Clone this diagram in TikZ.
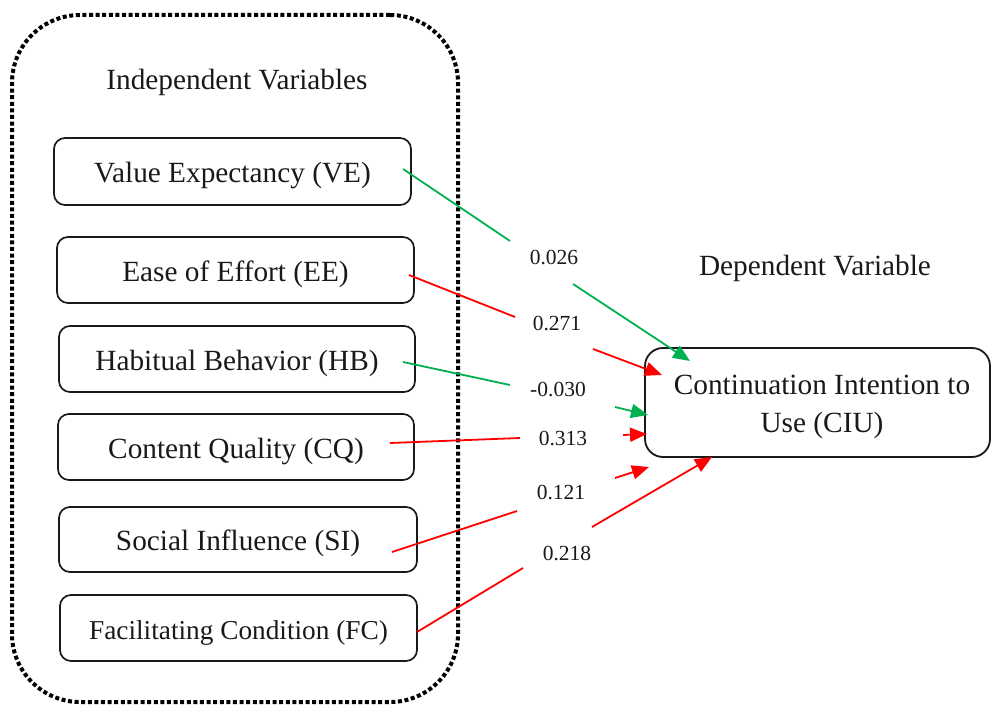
\documentclass[tikz,border=0pt]{standalone}
\usepackage{fontspec}
\setmainfont{Liberation Serif}
\usetikzlibrary{arrows.meta}
\definecolor{arrgreen}{RGB}{0,176,80}
\definecolor{arrred}{RGB}{255,0,0}
\definecolor{inkc}{RGB}{25,25,25}
\begin{document}
\begin{tikzpicture}[x=1pt,y=-1pt,
  varbox/.style={draw=inkc, line width=1.7pt, rounded corners=11pt, minimum width=356pt, minimum height=66pt, inner sep=0pt, text height=22pt, text depth=0pt, text=inkc, font=\fontsize{29.3}{35}\selectfont},
  depbox/.style={draw=inkc, line width=1.8pt, rounded corners=18pt, minimum width=345pt, minimum height=109pt, inner sep=0pt},
  frame/.style={draw=black, line width=4pt, dash pattern=on 4pt off 2.6pt, rounded corners=68pt, minimum width=446pt, minimum height=687pt, inner sep=0pt},
  heading/.style={text=inkc, font=\fontsize{29.3}{35}\selectfont, inner sep=0pt, anchor=base},
  coef/.style={text=inkc, font=\fontsize{21.5}{25}\selectfont, inner sep=0pt},
  gline/.style={draw=arrgreen, line width=1.8pt},
  rline/.style={draw=arrred, line width=1.8pt},
  tip/.style={-{Triangle[length=17pt,width=14pt]}}
]
\useasboundingbox (0,0) rectangle (991,706);

% frame
\node[frame] (frame) at (235,358.5) {};
\node[heading] (indep) at (237,90) {Independent Variables};
\node[heading] (dep) at (815,275) {Dependent Variable};

% independent variable boxes
\node[varbox, minimum width=357pt, minimum height=67pt] (VE) at (232.5,171.5) {Value Expectancy (VE)};
\node[varbox, minimum width=357pt] (EE) at (235.5,270) {Ease of Effort (EE)};
\node[varbox] (HB) at (237,359) {Habitual Behavior (HB)};
\node[varbox] (CQ) at (236,447) {Content Quality (CQ)};
\node[varbox, minimum width=358pt, minimum height=65pt] (SI) at (238,539.5) {Social Influence (SI)};
\node[varbox, minimum width=357pt, font=\fontsize{27.3}{33}\selectfont] (FC) at (238.5,628) {Facilitating Condition (FC)};

% dependent variable box
\node[depbox] (CIU) at (817.5,402.5) {};
\node[heading, align=center] (ciutext) at (822,432) {Continuation Intention to\\[3pt]Use (CIU)};

% coefficients
\node[coef] (c1) at (554,258) {0.026};
\node[coef] (c2) at (557,324) {0.271};
\node[coef] (c3) at (558,390) {-0.030};
\node[coef] (c4) at (563,439) {0.313};
\node[coef] (c5) at (561,493) {0.121};
\node[coef] (c6) at (567,553) {0.218};

% connector points
\coordinate (veA) at (403,169);  \coordinate (veB) at (510,241);
\coordinate (veC) at (573,284);  \coordinate (veD) at (690,361);
\coordinate (eeA) at (409,275);  \coordinate (eeB) at (515,317);
\coordinate (eeC) at (593,349);  \coordinate (eeD) at (662,375);
\coordinate (hbA) at (403,362);  \coordinate (hbB) at (510,385);
\coordinate (hbC) at (615,407);  \coordinate (hbD) at (648,415);
\coordinate (cqA) at (390,443);  \coordinate (cqB) at (520,438);
\coordinate (cqC) at (623,435);  \coordinate (cqD) at (647,434);
\coordinate (siA) at (392,552);  \coordinate (siB) at (517,511);
\coordinate (siC) at (615,478);  \coordinate (siD) at (649,467);
\coordinate (fcA) at (417,632);  \coordinate (fcB) at (523,568);
\coordinate (fcC) at (592,527);  \coordinate (fcD) at (712,457);

% connectors
\draw[gline] (veA) -- (veB);
\draw[gline, tip] (veC) -- (veD);
\draw[rline] (eeA) -- (eeB);
\draw[rline, tip] (eeC) -- (eeD);
\draw[gline] (hbA) -- (hbB);
\draw[gline, tip] (hbC) -- (hbD);
\draw[rline] (cqA) -- (cqB);
\draw[rline, tip] (cqC) -- (cqD);
\draw[rline] (siA) -- (siB);
\draw[rline, tip] (siC) -- (siD);
\draw[rline] (fcA) -- (fcB);
\draw[rline, tip] (fcC) -- (fcD);
\end{tikzpicture}
\end{document}
